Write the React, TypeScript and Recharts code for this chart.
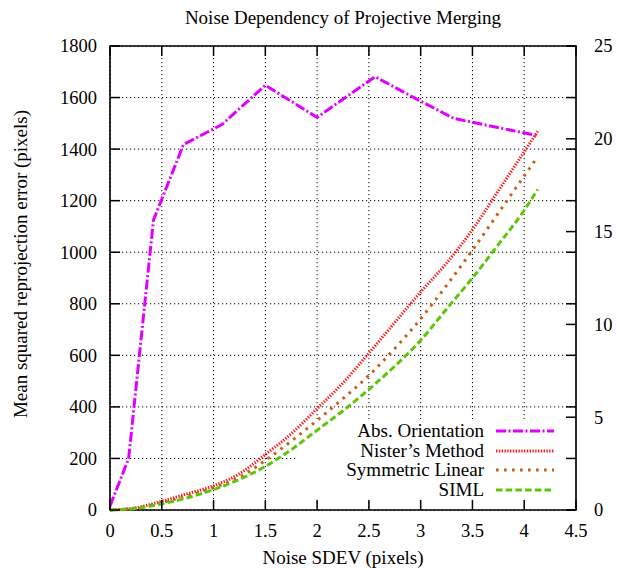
import React from "react";
import {
  LineChart,
  Line,
  XAxis,
  YAxis,
  CartesianGrid,
  Legend,
  ReferenceArea,
} from "recharts";

// noise levels (pixels)
const noiseAbs = [0, 0.18, 0.42, 0.71, 1.08, 1.5, 2.0, 2.56, 2.98, 3.32, 4.13];
const noise = [0, 0.25, 0.5, 0.75, 1, 1.25, 1.5, 1.75, 2, 2.25, 2.5, 2.75, 3, 3.25, 3.5, 3.75, 4, 4.13];

// left axis
const absOrientation = [15, 200, 1125, 1418, 1495, 1648, 1523, 1681, 1590, 1519, 1452];
// right axis
const nister = [0, 0.12, 0.47, 0.88, 1.3, 1.95, 2.99, 4.11, 5.46, 6.85, 8.45, 10.1, 11.75, 13.3, 15.1, 17.2, 19.3, 20.4];
const symLinear = [0, 0.1, 0.4, 0.77, 1.2, 1.77, 2.67, 3.71, 4.83, 6.0, 7.25, 8.7, 10.3, 12.1, 14.0, 16.0, 18.0, 19.03];
const siml = [0, 0.08, 0.33, 0.66, 1.1, 1.65, 2.35, 3.25, 4.3, 5.35, 6.5, 7.75, 9.14, 10.83, 12.5, 14.3, 16.15, 17.27];

const xTicks = [0, 0.5, 1, 1.5, 2, 2.5, 3, 3.5, 4, 4.5];
const leftTicks = [0, 200, 400, 600, 800, 1000, 1200, 1400, 1600, 1800];
const rightTicks = [0, 5, 10, 15, 20, 25];

const absData = noiseAbs.map((x, i) => ({ x, y: absOrientation[i] }));
const nisterData = noise.map((x, i) => ({ x, y: nister[i] }));
const symData = noise.map((x, i) => ({ x, y: symLinear[i] }));
const simlData = noise.map((x, i) => ({ x, y: siml[i] }));

const FONT = "Liberation Serif, Times New Roman, serif";
const W = 617;
const H = 568;
const PLOT_L = 110;
const PLOT_R = 576;
const PLOT_T = 46;
const PLOT_B = 510;
const TICK = 10;

const series = [
  { name: "Abs. Orientation", color: "#e100ff", dash: "10 2.5 2 2.5", width: 3 },
  { name: "Nister\u2019s Method", color: "#ff1f1f", dash: "1.4 1.4", width: 3 },
  { name: "Symmetric Linear", color: "#c8601a", dash: "2.7 5.3", width: 3 },
  { name: "SIML", color: "#5cc50c", dash: "6.5 3.2", width: 3 },
];

const txt = { fontFamily: FONT, fontSize: 18.5 };

const XTick = (props: any) => {
  const { x, payload } = props;
  return (
    <g>
      <line x1={x} x2={x} y1={PLOT_B} y2={PLOT_B - TICK} stroke="#000" strokeWidth={1.5} />
      <line x1={x} x2={x} y1={PLOT_T} y2={PLOT_T + TICK} stroke="#000" strokeWidth={1.5} />
      <text x={x} y={531} dy="0.35em" textAnchor="middle" style={txt} fill="#000">
        {payload.value}
      </text>
    </g>
  );
};

const LeftTick = (props: any) => {
  const { y, payload } = props;
  return (
    <g>
      <line x1={PLOT_L} x2={PLOT_L + TICK} y1={y} y2={y} stroke="#000" strokeWidth={1.5} />
      <line x1={PLOT_R} x2={PLOT_R - TICK} y1={y} y2={y} stroke="#000" strokeWidth={1.5} />
      <text x={97} y={y} dy="0.35em" textAnchor="end" style={txt} fill="#000">
        {payload.value}
      </text>
    </g>
  );
};

const RightTick = (props: any) => {
  const { y, payload } = props;
  return (
    <g>
      <line x1={PLOT_R} x2={PLOT_R - TICK} y1={y} y2={y} stroke="#000" strokeWidth={1.5} />
      <text x={594} y={y} dy="0.35em" textAnchor="start" style={txt} fill="#000">
        {payload.value}
      </text>
    </g>
  );
};

const renderLegend = () => (
  <div style={{ paddingTop: 2, fontFamily: FONT, fontSize: 19, color: "#000" }}>
    {series.map((s) => (
      <div key={s.name} style={{ height: 19.6, display: "flex", alignItems: "center" }}>
        <span style={{ width: 187, textAlign: "right", lineHeight: "19.6px", whiteSpace: "nowrap" }}>{s.name}</span>
        <svg width={70} height={19.6}>
          <line x1={12} x2={70} y1={10} y2={10} stroke={s.color} strokeWidth={s.width} strokeDasharray={s.dash} />
        </svg>
      </div>
    ))}
  </div>
);

export default function App() {
  return (
    <div style={{ position: "absolute", left: 0, top: 0, width: W, height: H, background: "#fff" }}>
      <div
        style={{
          position: "absolute",
          left: 0,
          width: 686,
          top: 6,
          textAlign: "center",
          fontFamily: FONT,
          fontSize: 19,
          lineHeight: "24px",
          zIndex: 2,
        }}
      >
        Noise Dependency of Projective Merging
      </div>
      <LineChart width={W} height={H} margin={{ top: PLOT_T, right: 0, bottom: 0, left: 0 }}>
        <CartesianGrid yAxisId="left" stroke="#000" strokeWidth={1} strokeDasharray="1.2 2.8" />
        <XAxis
          dataKey="x"
          type="number"
          domain={[0, 4.5]}
          ticks={xTicks}
          interval={0}
          height={H - PLOT_B}
          tick={<XTick />}
          tickLine={false}
          axisLine={false}
          allowDataOverflow
          label={{
            content: () => (
              <text x={343} y={557} dy="0.35em" textAnchor="middle" style={{ fontFamily: FONT, fontSize: 19 }} fill="#000">
                Noise SDEV (pixels)
              </text>
            ),
          }}
        />
        <YAxis
          yAxisId="left"
          type="number"
          domain={[0, 1800]}
          ticks={leftTicks}
          interval={0}
          width={PLOT_L}
          tick={<LeftTick />}
          tickLine={false}
          axisLine={false}
          label={{
            content: () => (
              <text
                x={20}
                y={264}
                dy="0.35em"
                textAnchor="middle"
                style={{ fontFamily: FONT, fontSize: 19 }}
                fill="#000"
                transform="rotate(-90 20 264)"
              >
                Mean squared reprojection error (pixels)
              </text>
            ),
          }}
        />
        <YAxis
          yAxisId="right"
          orientation="right"
          type="number"
          domain={[0, 25]}
          ticks={rightTicks}
          interval={0}
          width={W - PLOT_R}
          tick={<RightTick />}
          tickLine={false}
          axisLine={false}
        />
        {/* opaque key box: hides the grid, not the curves */}
        <ReferenceArea yAxisId="left" x1={1.806} x2={4.4} y1={43} y2={353} fill="#fff" fillOpacity={1} stroke="none" />
        <ReferenceArea
          yAxisId="left"
          x1={0}
          x2={4.5}
          y1={0}
          y2={1800}
          fill="none"
          stroke="#000"
          strokeWidth={1.6}
        />
        <Line
          yAxisId="left"
          data={absData}
          dataKey="y"
          name={series[0].name}
          type="linear"
          stroke={series[0].color}
          strokeWidth={series[0].width}
          strokeDasharray={series[0].dash}
          dot={false}
          isAnimationActive={false}
        />
        <Line
          yAxisId="right"
          data={nisterData}
          dataKey="y"
          name={series[1].name}
          type="monotone"
          stroke={series[1].color}
          strokeWidth={series[1].width}
          strokeDasharray={series[1].dash}
          dot={false}
          isAnimationActive={false}
        />
        <Line
          yAxisId="right"
          data={symData}
          dataKey="y"
          name={series[2].name}
          type="monotone"
          stroke={series[2].color}
          strokeWidth={series[2].width}
          strokeDasharray={series[2].dash}
          dot={false}
          isAnimationActive={false}
        />
        <Line
          yAxisId="right"
          data={simlData}
          dataKey="y"
          name={series[3].name}
          type="monotone"
          stroke={series[3].color}
          strokeWidth={series[3].width}
          strokeDasharray={series[3].dash}
          dot={false}
          isAnimationActive={false}
        />
        <Legend
          layout="vertical"
          align="center"
          verticalAlign="middle"
          content={renderLegend}
          wrapperStyle={{
            position: "absolute",
            left: 297,
            top: 419,
            width: 269,
            height: 80,
          }}
        />
      </LineChart>
    </div>
  );
}
